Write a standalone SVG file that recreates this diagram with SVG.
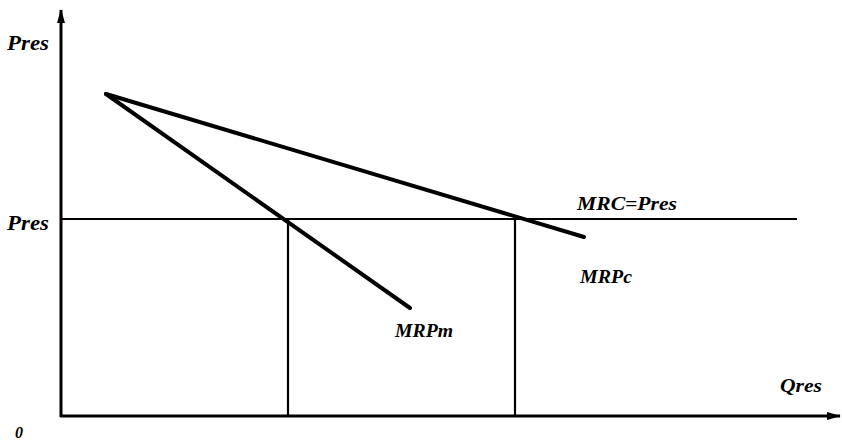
<svg xmlns="http://www.w3.org/2000/svg" width="842" height="440" viewBox="0 0 842 440">
<style>
.lbl{font-family:"Liberation Serif","DejaVu Serif","Times New Roman",serif;font-weight:bold;font-style:italic;fill:#000}
.ax{stroke:#000;stroke-width:3;fill:none}
.thin{stroke:#000;stroke-width:2.2;fill:none}
.crv{stroke:#000;stroke-width:4;fill:none;stroke-linecap:round}
</style>
<defs>
<marker id="ah" viewBox="0 0 14 8" refX="13" refY="4" markerWidth="14" markerHeight="8" markerUnits="userSpaceOnUse" orient="auto">
<path d="M0,0 L14,4 L0,8 Z" fill="#000"/>
</marker>
</defs>
<rect width="842" height="440" fill="#fff"/>
<g id="connectors">
<line id="y-axis" class="ax" x1="61" y1="417" x2="61" y2="10" marker-end="url(#ah)"/>
<line id="x-axis" class="ax" x1="60" y1="416" x2="840" y2="416" marker-end="url(#ah)"/>
<line id="mrc" class="thin" x1="61" y1="219" x2="797" y2="219"/>
<line id="vm" class="thin" x1="288" y1="219" x2="288" y2="416"/>
<line id="vc" class="thin" x1="515" y1="219" x2="515" y2="416"/>
<line id="mrpc" class="crv" x1="106" y1="94" x2="584" y2="237"/>
<line id="mrpm" class="crv" x1="106" y1="94" x2="410" y2="308"/>
</g>
<g id="label-pres-top"><text class="lbl" x="7" y="50" font-size="21" textLength="42" lengthAdjust="spacingAndGlyphs">Pres</text></g>
<g id="label-pres-mid"><text class="lbl" x="7" y="230" font-size="21" textLength="42" lengthAdjust="spacingAndGlyphs">Pres</text></g>
<g id="label-mrc"><text class="lbl" x="577" y="210" font-size="18" textLength="100" lengthAdjust="spacingAndGlyphs">MRC=Pres</text></g>
<g id="label-mrpc"><text class="lbl" x="580" y="283" font-size="18" textLength="52" lengthAdjust="spacingAndGlyphs">MRPc</text></g>
<g id="label-mrpm"><text class="lbl" x="395" y="337" font-size="18" textLength="58" lengthAdjust="spacingAndGlyphs">MRPm</text></g>
<g id="label-qres"><text class="lbl" x="780" y="392" font-size="18" textLength="42" lengthAdjust="spacingAndGlyphs">Qres</text></g>
<g id="label-zero"><text class="lbl" x="15" y="438" font-size="16">0</text></g>
</svg>
